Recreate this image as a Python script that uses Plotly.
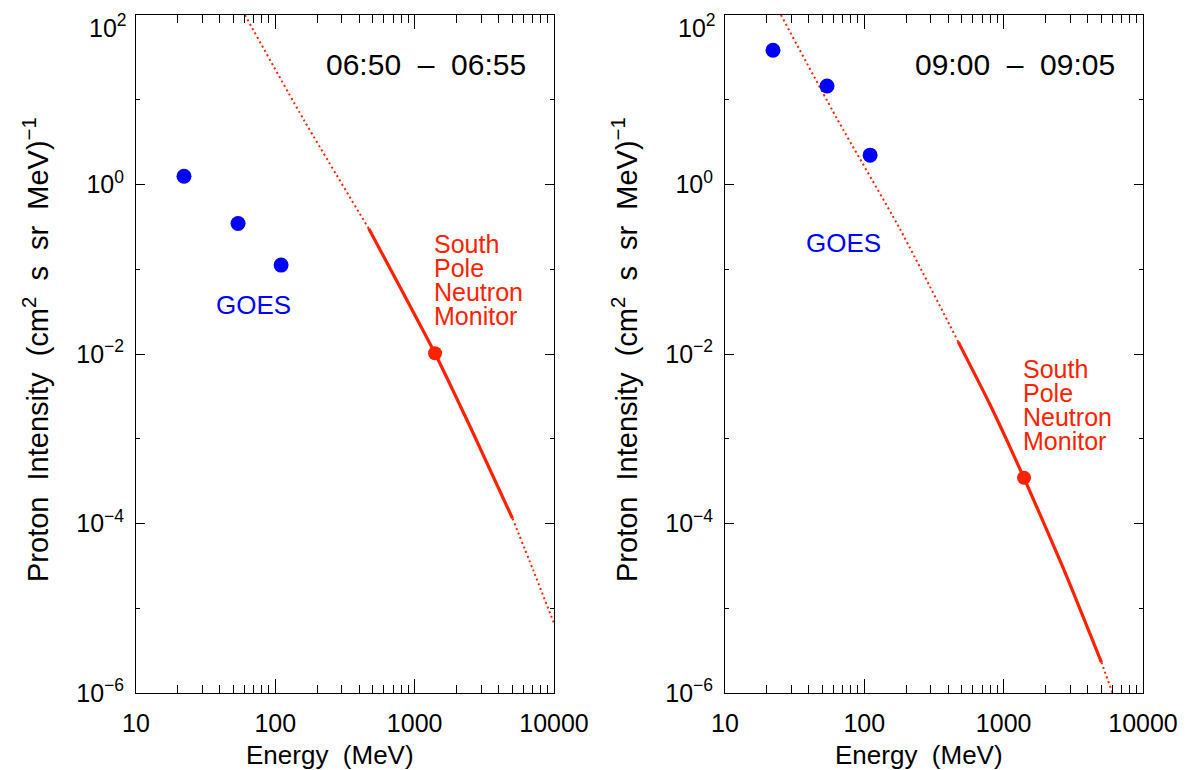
import plotly.graph_objects as go

# ---------------- data ----------------
goes_energy = [22.1, 54.0, 110.0]
goes_left = [1.25, 0.347, 0.112]
goes_right = [38.3, 14.5, 2.22]

nm_point_energy = [1400.0]
nm_point_left = [0.0102]
nm_point_right = [3.47e-4]

# left panel (06:50 - 06:55) fitted spectrum
fit_left_low_E = [60.5, 160.0, 469.0]
fit_left_low_I = [100.0, 5.8, 0.30]
fit_left_mid_E = [469.0, 783.0, 1397.0, 2631.0, 5035.0]
fit_left_mid_I = [0.30, 0.062, 0.0102, 1.16e-3, 1.15e-4]
fit_left_high_E = [5035.0, 7080.0, 10000.0]
fit_left_high_I = [1.15e-4, 2.83e-5, 6.65e-6]

# right panel (09:00 - 09:05) fitted spectrum
fit_right_low_E = [25.2, 63.2, 179.8, 472.0]
fit_right_low_I = [100.0, 6.1, 0.30, 0.0139]
fit_right_mid_E = [472.0, 796.0, 1396.0, 2673.0, 5034.0]
fit_right_mid_I = [0.0139, 2.55e-3, 3.47e-4, 3.0e-5, 2.3e-6]
fit_right_high_E = [5034.0, 6037.0]
fit_right_high_I = [2.3e-6, 1.0e-6]

x_tick_vals = [10, 100, 1000, 10000]
x_tick_text = ["10", "100", "1000", "10000"]
y_tick_vals = [1e-6, 1e-4, 1e-2, 1, 100]
y_tick_text = ["10<sup>\u22126</sup>", "10<sup>\u22124</sup>", "10<sup>\u22122</sup>",
               "10<sup>0</sup>", ""]
y_top_label = "10<sup>2</sup>"
panel_titles = ["06:50\u00a0\u00a0\u2013\u00a0\u00a006:55", "09:00\u00a0\u00a0\u2013\u00a0\u00a009:05"]

# ---------------- styling ----------------
W, H = 1188, 770
RED = "#ff2200"
BLUE = "#0000ff"
FONT = "Liberation Sans"

def px(x):
    return x / W

def py(y):
    return 1 - y / H

fig = go.Figure()

panels = [
    dict(xa="x", ya="y", goes=goes_left, nm=nm_point_left,
         low=(fit_left_low_E, fit_left_low_I), mid=(fit_left_mid_E, fit_left_mid_I),
         high=(fit_left_high_E, fit_left_high_I)),
    dict(xa="x2", ya="y2", goes=goes_right, nm=nm_point_right,
         low=(fit_right_low_E, fit_right_low_I), mid=(fit_right_mid_E, fit_right_mid_I),
         high=(fit_right_high_E, fit_right_high_I)),
]

for p in panels:
    for seg, dash, w in (("low", "2px,3px", 2), ("mid", "solid", 3.2), ("high", "2px,3px", 2)):
        e, i = p[seg]
        fig.add_trace(go.Scatter(x=e, y=i, mode="lines", xaxis=p["xa"], yaxis=p["ya"],
                                 line=dict(color=RED, width=w, dash=dash, shape="spline", smoothing=0.6),
                                 showlegend=False, hoverinfo="skip"))
    fig.add_trace(go.Scatter(x=goes_energy, y=p["goes"], mode="markers", xaxis=p["xa"], yaxis=p["ya"],
                             marker=dict(color=BLUE, size=15, line=dict(width=0)), showlegend=False))
    fig.add_trace(go.Scatter(x=nm_point_energy, y=p["nm"], mode="markers", xaxis=p["xa"], yaxis=p["ya"],
                             marker=dict(color=RED, size=14, line=dict(width=0)), showlegend=False))

minor_x = [m * d for d in (10, 100, 1000) for m in range(2, 10)]
minor_y = [1e-5, 1e-3, 1e-1, 10]

def xaxis(dom):
    return dict(type="log", range=[1, 4], domain=dom, tickmode="array", automargin=False,
                tickvals=x_tick_vals, ticktext=x_tick_text, ticks="inside", ticklen=14,
                tickwidth=1, tickcolor="black", showline=True, linecolor="black", linewidth=1,
                mirror="ticks", showgrid=False, zeroline=False, ticklabelstandoff=8,
                ticklabeloverflow="allow",
                tickfont=dict(family=FONT, size=25, color="black"),
                minor=dict(tickmode="array", tickvals=minor_x, ticks="inside", ticklen=8,
                           tickcolor="black", tickwidth=1, showgrid=False))

def yaxis():
    return dict(type="log", range=[-6, 2], domain=[py(693), py(15)], tickmode="array",
                automargin=False,
                tickvals=y_tick_vals, ticktext=y_tick_text, ticks="inside", ticklen=9,
                tickwidth=1, tickcolor="black", showline=True, linecolor="black", linewidth=1,
                mirror="ticks", showgrid=False, zeroline=False, ticklabelstandoff=6,
                ticklabeloverflow="allow",
                tickfont=dict(family=FONT, size=25, color="black"),
                minor=dict(tickmode="array", tickvals=minor_y, ticks="inside", ticklen=4,
                           tickcolor="black", tickwidth=1, showgrid=False))

fig.update_layout(
    width=W, height=H, margin=dict(l=0, r=0, t=0, b=0, autoexpand=False),
    paper_bgcolor="white", plot_bgcolor="white", showlegend=False,
    xaxis=dict(xaxis([px(136), px(554)]), anchor="y"),
    yaxis=dict(yaxis(), anchor="x"),
    xaxis2=dict(xaxis([px(725), px(1143)]), anchor="y2"),
    yaxis2=dict(yaxis(), anchor="x2"),
)

ann = []
def text(x, y, s, size=25, color="black", angle=0, xanchor="center"):
    ann.append(dict(x=px(x), y=py(y), xref="paper", yref="paper", text=s, showarrow=False,
                    xanchor=xanchor, yanchor="middle", textangle=angle,
                    font=dict(family=FONT, size=size, color=color)))

ytitle = "\u00a0\u00a0".join(["Proton", "Intensity", "(cm<sup>2</sup>", "s", "sr", "MeV)<sup>\u22121</sup>"])
for offset, title in ((0, panel_titles[0]), (589, panel_titles[1])):
    text(426 + offset, 65, title, size=30)
    text(330 + offset, 755, "Energy\u00a0\u00a0(MeV)", size=26)
    text(36 + offset, 350, ytitle, size=29, angle=-90)
    text(129 + offset, 26, y_top_label, size=25, xanchor="right")

text(253, 305, "GOES", color=BLUE, size=26)
text(843, 243, "GOES", color=BLUE, size=26)
for x0, y0 in ((432, 244), (1021, 369)):
    for k, word in enumerate(["South", "Pole", "Neutron", "Monitor"]):
        text(x0, y0 + 24 * k, word, color=RED, xanchor="left", size=25)

fig.update_layout(annotations=ann)
fig.write_html("out.html")
